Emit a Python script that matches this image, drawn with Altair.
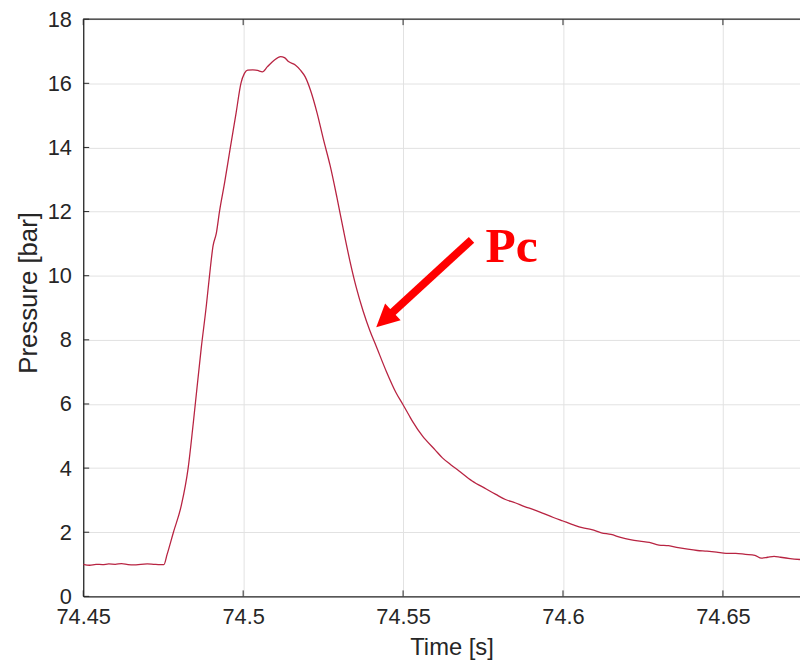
import altair as alt
import pandas as pd

# ---- data ----
time_s = [
    74.4500, 74.4520, 74.4540, 74.4560, 74.4580, 74.4600, 74.4620, 74.4640,
    74.4660, 74.4680, 74.4700, 74.4720, 74.4740, 74.4752,
    74.4762, 74.4782, 74.4807, 74.4828, 74.4844, 74.4869, 74.4885,
    74.4895, 74.4906, 74.4916, 74.4926, 74.4942, 74.4960, 74.4978, 74.4993,
    74.5004, 74.5014, 74.5030, 74.5045, 74.5060, 74.5076, 74.5097, 74.5117,
    74.5129, 74.5143, 74.5163, 74.5179, 74.5194, 74.5210, 74.5231, 74.5251,
    74.5272, 74.5293, 74.5313, 74.5334, 74.5354, 74.5375, 74.5396, 74.5416,
    74.5447, 74.5478, 74.5499, 74.5519, 74.5530, 74.5561, 74.5571, 74.5600,
    74.5623, 74.5650, 74.5674, 74.5716, 74.5760, 74.5790, 74.5820, 74.5850,
    74.5880, 74.5910, 74.5940, 74.5970, 74.6000, 74.6030, 74.6060, 74.6090,
    74.6120, 74.6150, 74.6180, 74.6210, 74.6240, 74.6270, 74.6300, 74.6330,
    74.6360, 74.6390, 74.6420, 74.6450, 74.6480, 74.6510, 74.6540, 74.6570,
    74.6600, 74.6620, 74.6640, 74.6660, 74.6680, 74.6710, 74.6741,
]
pressure_bar = [
    1.00, 0.97, 1.00, 0.99, 1.01, 1.00, 1.02, 0.99,
    0.98, 1.00, 1.01, 1.00, 0.99, 0.99,
    1.30, 2.00, 2.85, 4.00, 5.40, 7.75, 9.08,
    10.02, 10.94, 11.32, 12.00, 12.90, 14.00, 15.08, 16.00,
    16.31, 16.41, 16.42, 16.40, 16.36, 16.52, 16.72, 16.83,
    16.80, 16.67, 16.57, 16.41, 16.20, 15.80, 15.08, 14.25,
    13.43, 12.45, 11.45, 10.45, 9.62, 8.90, 8.29, 7.80,
    7.03, 6.35, 5.99, 5.64, 5.45, 5.00, 4.88, 4.57,
    4.32, 4.10, 3.92, 3.60, 3.35, 3.18, 3.02, 2.92,
    2.80, 2.70, 2.58, 2.46, 2.35, 2.24, 2.14, 2.08,
    1.98, 1.93, 1.84, 1.77, 1.72, 1.68, 1.60, 1.58,
    1.52, 1.47, 1.43, 1.41, 1.38, 1.34, 1.34, 1.31,
    1.28, 1.19, 1.22, 1.25, 1.22, 1.18, 1.15,
]
x_ticks = [74.45, 74.5, 74.55, 74.6, 74.65]
y_ticks = [0, 2, 4, 6, 8, 10, 12, 14, 16, 18]
x_domain = [74.45, 74.6741]
y_domain = [0, 18]

# annotation (data coordinates)
arrow_tail = [74.5714, 11.12]
arrow_shaft_end = [74.5450, 8.70]
arrow_tip = [74.5416, 8.39]
label_pos = [74.5758, 10.42]
label_text = "Pc"

# ---- chart ----
W, H = 724, 583
INK = "#262626"
LINE_COLOR = "#b82442"
RED = "#ff0000"
FONT = "Liberation Sans"

xs = alt.Scale(domain=x_domain, nice=False, zero=False)
ys = alt.Scale(domain=y_domain, nice=False, zero=False)
x_axis = alt.Axis(
    values=x_ticks, format=".2~f", title="Time [s]", labelFlush=False,
    grid=True, ticks=False, domain=True, labelPadding=10,
    titleX=372, titleAlign="center", titlePadding=9, titleFontSize=24,
)
y_axis = alt.Axis(
    values=y_ticks, format="d", title="Pressure [bar]",
    grid=True, ticks=False, domain=True, labelPadding=12, titlePadding=6,
    titleY=276, titleAlign="center", titleFontSize=26,
)


def X(field="t"):
    return alt.X(f"{field}:Q", scale=xs, axis=x_axis, title="Time [s]")


def Y(field="p"):
    return alt.Y(f"{field}:Q", scale=ys, axis=y_axis, title="Pressure [bar]")


df = pd.DataFrame({"t": time_s, "p": pressure_bar})

line = alt.Chart(df).mark_line(
    color=LINE_COLOR, strokeWidth=1.3, clip=True, interpolate="monotone"
).encode(x=X(), y=Y())

xt = pd.DataFrame({"t": x_ticks})
yt = pd.DataFrame({"p": y_ticks})
bottom_ticks = alt.Chart(xt).mark_rule(color=INK, strokeWidth=1).encode(
    x=X(), y=alt.value(H), y2=alt.value(H - 6))
top_ticks = alt.Chart(xt).mark_rule(color=INK, strokeWidth=1).encode(
    x=X(), y=alt.value(0), y2=alt.value(6))
left_ticks = alt.Chart(yt).mark_rule(color=INK, strokeWidth=1).encode(
    y=Y(), x=alt.value(0), x2=alt.value(6))
top_border = alt.Chart(alt.Data(values=[{}])).mark_rule(color=INK, strokeWidth=1.3).encode(
    x=alt.value(0), x2=alt.value(W), y=alt.value(0))

arrow_df = pd.DataFrame({"t": [arrow_tail[0]], "p": [arrow_tail[1]],
                         "t2": [arrow_shaft_end[0]], "p2": [arrow_shaft_end[1]]})
shaft = alt.Chart(arrow_df).mark_rule(color=RED, strokeWidth=8, strokeCap="butt").encode(
    x=X(), y=Y(), x2="t2:Q", y2="p2:Q")
head_df = pd.DataFrame({"t": [arrow_tip[0]], "p": [arrow_tip[1]]})
head = alt.Chart(head_df).mark_point(
    shape="M0,0L1,2L-1,2Z", filled=True, size=529, angle=227, color=RED, opacity=1,
    strokeWidth=0,
).encode(x=X(), y=Y())
lab_df = pd.DataFrame({"t": [label_pos[0]], "p": [label_pos[1]], "txt": [label_text]})
label = alt.Chart(lab_df).mark_text(
    align="left", baseline="alphabetic", font="Liberation Serif", fontSize=50,
    fontWeight="bold", color=RED,
).encode(x=X(), y=Y(), text="txt:N")

chart = alt.layer(
    line, bottom_ticks, top_ticks, left_ticks, top_border, shaft, head, label
).properties(
    width=W, height=H,
    autosize=alt.AutoSizeParams(type="none"),
    padding={"left": 76, "top": 8, "right": 0, "bottom": 63},
    background="white",
).configure_view(stroke=None).configure_axis(
    labelFont=FONT, titleFont=FONT, labelFontSize=22, titleFontSize=23,
    labelColor=INK, titleColor=INK, titleFontWeight="normal",
    domainColor=INK, domainWidth=1.3, gridColor="#e2e2e2", gridWidth=1,
)

chart.save("out.html", embed_options={"renderer": "svg", "actions": False})
